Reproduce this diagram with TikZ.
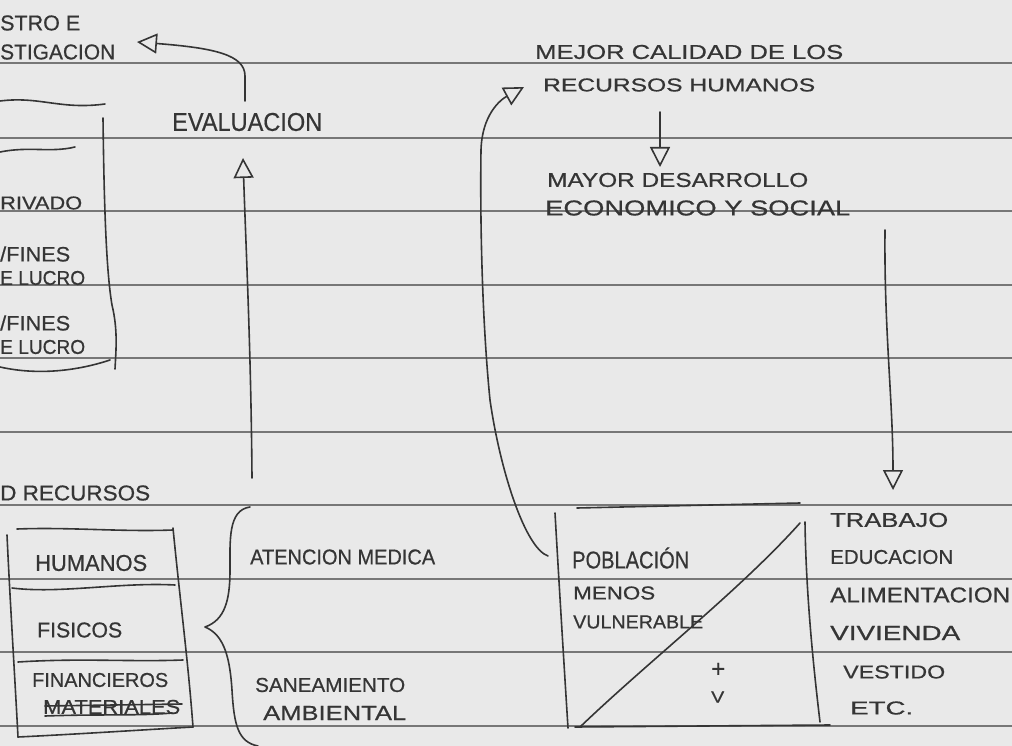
\documentclass[tikz,border=0pt]{standalone}
\usepackage{fontspec}
\setmainfont{Liberation Sans}[FakeBold=0.6]
\usepackage{graphicx}
\usetikzlibrary{arrows.meta}
\definecolor{paper}{HTML}{E9E9E9}
\definecolor{ink}{HTML}{353535}
\definecolor{rulecol}{HTML}{777777}
\newcommand\hw[3]{\resizebox{#1pt}{#2pt}{#3}}
\begin{document}
\begin{tikzpicture}[x=1pt,y=-1pt,
  txt/.style={anchor=west,inner sep=0pt,text=ink},
  inkline/.style={draw=ink,line width=1.6pt,line cap=round,line join=round},
  arr/.style={inkline,-{Triangle[open,length=20pt,width=20pt,line width=1.6pt]}},
  ruled/.style={draw=rulecol,line width=1.2pt}]
\useasboundingbox (0,0) rectangle (1012,746);
\fill[paper] (0,0) rectangle (1012,746);
\foreach \yy in {63,138,211,285,358,432,505,579,652,726}
  \draw[ruled] (0,\yy) -- (1012,\yy);

% top-left texts
\node[txt] (stro) at (0,23) {\hw{80}{15}{STRO E}};
\node[txt] (inv) at (0,52) {\hw{115}{15}{STIGACION}};
\node[txt] (eval) at (172,122) {\hw{150}{18}{EVALUACION}};
\node[txt] (priv) at (0,203) {\hw{82}{13}{RIVADO}};
\node[txt] (cf1) at (0,254) {\hw{70}{15}{/FINES}};
\node[txt] (cl1) at (0,278) {\hw{85}{14}{E LUCRO}};
\node[txt] (sf1) at (0,323) {\hw{70}{15}{/FINES}};
\node[txt] (sl1) at (0,347) {\hw{85}{14}{E LUCRO}};

% left top box
\draw[inkline] (0,101) .. controls (40,96) and (60,110) .. (105,104);
\draw[inkline] (0,152) .. controls (30,146) and (50,153) .. (75,147);
\draw[inkline] (103,118) .. controls (104,200) and (106,270) .. (112,305)
  .. controls (118,330) and (116,350) .. (115,369);
\draw[inkline] (0,367) .. controls (40,376) and (80,370) .. (110,360);

% evaluation arrows
\coordinate (evtop) at (245,101);
\coordinate (invtip) at (137,42);
\draw[arr] (evtop) -- (245,76) .. controls (245,55) and (215,48) .. (invtip);
\coordinate (evbot) at (252,478);
\coordinate (evtip) at (243,158);
\draw[arr] (evbot) .. controls (251,350) and (246,250) .. (evtip);

% top right texts
\node[txt] (mejor) at (535,52) {\hw{308}{14}{MEJOR CALIDAD DE LOS}};
\node[txt] (rh) at (543,85) {\hw{272}{13}{RECURSOS HUMANOS}};
\node[txt] (mayor) at (547,180) {\hw{261}{14}{MAYOR DESARROLLO}};
\node[txt] (econ) at (545,208) {\hw{305}{15}{ECONOMICO Y SOCIAL}};
\coordinate (rhb) at (660,112);
\coordinate (mdt) at (660,167);
\draw[arr] (rhb) -- (mdt);
\coordinate (mds) at (885,230);
\coordinate (trt) at (893,490);
\draw[arr] (mds) .. controls (884,330) and (893,400) .. (trt);

% recursos
\node[txt] (drec) at (0,493) {\hw{150}{15}{D RECURSOS}};
\draw[inkline] (17,529) .. controls (70,527) and (120,532) .. (173,530);
\draw[inkline] (7,535) .. controls (10,600) and (15,680) .. (18,737);
\draw[inkline] (173,528) .. controls (180,600) and (188,660) .. (193,727);
\draw[inkline] (18,737) .. controls (80,734) and (140,730) .. (193,727);
\draw[inkline] (12,588) .. controls (60,594) and (120,582) .. (175,585);
\draw[inkline] (18,662) .. controls (80,658) and (130,662) .. (183,660);
\node[txt] (hum) at (35,563) {\hw{112}{16}{HUMANOS}};
\node[txt] (fis) at (37,630) {\hw{85}{15}{FISICOS}};
\node[txt] (fin) at (32,680) {\hw{136}{14}{FINANCIEROS}};
\node[txt] (mat) at (43,707) {\hw{137}{14}{MATERIALES}};
\draw[inkline] (45,706) -- (182,704);
\draw[inkline] (45,716) .. controls (100,714) and (140,716) .. (172,713);

% brace
\draw[inkline] (250,507) .. controls (228,510) and (230,540) .. (230,570)
  .. controls (230,600) and (225,620) .. (205,627)
  .. controls (225,635) and (230,660) .. (232,690)
  .. controls (234,725) and (238,742) .. (258,746);
\node[txt] (aten) at (250,557) {\hw{185}{15}{ATENCION MEDICA}};
\node[txt] (sane) at (255,685) {\hw{150}{14}{SANEAMIENTO}};
\node[txt] (amb) at (263,713) {\hw{143}{14}{AMBIENTAL}};

% poblacion box
\draw[inkline] (577,508) -- (800,503);
\draw[inkline] (555,513) .. controls (560,600) and (565,680) .. (568,728);
\draw[inkline] (805,522) .. controls (806,600) and (815,680) .. (820,722);
\draw[inkline] (575,727) -- (830,725);
\draw[inkline] (580,727) .. controls (650,660) and (740,590) .. (800,523);
\node[txt] (pob) at (572,558) {\hw{117}{21}{POBLACIÓN}};
\node[txt] (menos) at (573,593) {\hw{82}{13}{MENOS}};
\node[txt] (vuln) at (573,622) {\hw{130}{13}{VULNERABLE}};
\node[txt] (plus) at (711,670) {\hw{14}{14}{+}};
\node[txt] (vee) at (711,697) {\hw{13}{11}{V}};

% poblacion -> recursos humanos
\coordinate (pobw) at (548,556);
\coordinate (rhtip) at (524,87);
\draw[arr] (pobw) .. controls (525,548) and (500,470) .. (490,400)
  .. controls (482,320) and (480,220) .. (481,150)
  .. controls (482,115) and (500,100) .. (rhtip);

% right list
\node[txt] (trab) at (830,520) {\hw{118}{14}{TRABAJO}};
\node[txt] (edu) at (830,557) {\hw{123}{14}{EDUCACION}};
\node[txt] (ali) at (830,595) {\hw{180}{15}{ALIMENTACION}};
\node[txt] (viv) at (830,633) {\hw{130}{14}{VIVIENDA}};
\node[txt] (ves) at (843,672) {\hw{102}{13}{VESTIDO}};
\node[txt] (etc) at (850,708) {\hw{63}{13}{ETC.}};
\end{tikzpicture}
\end{document}
